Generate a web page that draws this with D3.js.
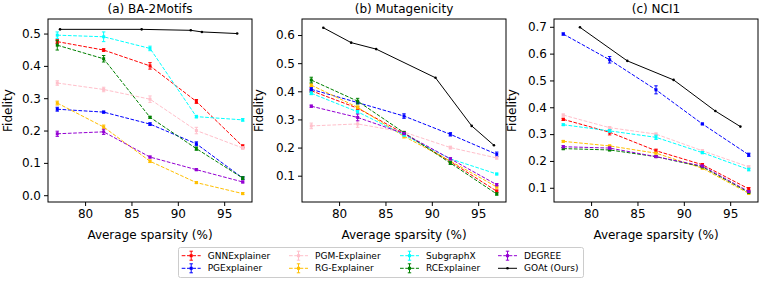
<!DOCTYPE html>
<html lang="en">
	<head>
		<meta charset="utf-8">
		<title>Fidelity vs sparsity</title>
		<script src="https://d3js.org/d3.v7.min.js"></script>
		<style type="text/css">
            body { margin: 0; background: white; }
            text { font-family: "DejaVu Sans", sans-serif; fill: black; }
            .tick text { font-size: 12px; }
            .domain { display: none; }
		</style>
	</head>
	<body>
        <div id="chart"></div>

        <script type="text/javascript">
            const width = 762;
            const height = 282;

            // data
            const sparsity = [77, 82, 87, 92, 97];
            const methods = ["GNNExplainer", "PGExplainer", "PGM-Explainer", "RG-Explainer",
                             "SubgraphX", "RCExplainer", "DEGREE", "GOAt (Ours)"];
            const colors = ["red", "blue", "pink", "#ffbf00", "cyan", "green", "darkviolet", "black"];

            // rows follow methods order (without GOAt)
            const baFid = [
                [0.475, 0.449, 0.400, 0.290, 0.151],
                [0.266, 0.257, 0.220, 0.159, 0.053],
                [0.347, 0.327, 0.297, 0.200, 0.146],
                [0.285, 0.211, 0.105, 0.039, 0.005],
                [0.495, 0.490, 0.454, 0.243, 0.233],
                [0.464, 0.422, 0.241, 0.144, 0.053],
                [0.190, 0.196, 0.118, 0.079, 0.041]
            ];
            const baErr = [
                [0.006, 0.004, 0.010, 0.006, 0.005],
                [0.006, 0.003, 0.004, 0.006, 0.004],
                [0.007, 0.007, 0.010, 0.010, 0.004],
                [0.006, 0.006, 0.004, 0.003, 0.003],
                [0.010, 0.015, 0.007, 0.004, 0.004],
                [0.015, 0.010, 0.003, 0.005, 0.004],
                [0.008, 0.008, 0.003, 0.003, 0.003]
            ];
            const baGoatX = [77.3, 86.1, 91.4, 92.6, 96.4];
            const baGoatY = [0.513, 0.513, 0.510, 0.505, 0.500];

            const mutFid = [
                [0.402, 0.340, 0.250, 0.150, 0.045],
                [0.407, 0.360, 0.312, 0.247, 0.176],
                [0.277, 0.284, 0.255, 0.200, 0.163],
                [0.422, 0.343, 0.240, 0.152, 0.060],
                [0.393, 0.327, 0.245, 0.160, 0.106],
                [0.440, 0.365, 0.253, 0.145, 0.035],
                [0.347, 0.307, 0.250, 0.160, 0.068]
            ];
            const mutErr = [
                [0.005, 0.005, 0.004, 0.004, 0.004],
                [0.006, 0.004, 0.008, 0.006, 0.008],
                [0.010, 0.012, 0.004, 0.005, 0.004],
                [0.005, 0.005, 0.006, 0.004, 0.004],
                [0.005, 0.005, 0.004, 0.003, 0.003],
                [0.010, 0.010, 0.004, 0.005, 0.004],
                [0.004, 0.012, 0.004, 0.004, 0.004]
            ];
            const mutGoatX = [78.3, 81.3, 84.0, 90.4, 94.3, 96.7];
            const mutGoatY = [0.626, 0.573, 0.550, 0.448, 0.277, 0.208];

            const nciFid = [
                [0.355, 0.307, 0.238, 0.186, 0.096],
                [0.673, 0.577, 0.465, 0.338, 0.223],
                [0.371, 0.324, 0.300, 0.238, 0.178],
                [0.273, 0.256, 0.229, 0.173, 0.079],
                [0.335, 0.312, 0.288, 0.231, 0.168],
                [0.246, 0.241, 0.216, 0.178, 0.083],
                [0.253, 0.248, 0.216, 0.181, 0.086]
            ];
            const nciErr = [
                [0.004, 0.010, 0.006, 0.004, 0.005],
                [0.004, 0.012, 0.015, 0.003, 0.006],
                [0.004, 0.004, 0.004, 0.004, 0.004],
                [0.003, 0.003, 0.003, 0.003, 0.003],
                [0.003, 0.005, 0.008, 0.004, 0.005],
                [0.004, 0.003, 0.003, 0.003, 0.003],
                [0.004, 0.004, 0.003, 0.003, 0.003]
            ];
            const nciGoatX = [78.8, 83.9, 88.9, 93.4, 96.1];
            const nciGoatY = [0.698, 0.573, 0.502, 0.386, 0.328];

            const xTicks = [80, 85, 90, 95];
            const baYTicks = [0.0, 0.1, 0.2, 0.3, 0.4, 0.5];
            const mutYTicks = [0.1, 0.2, 0.3, 0.4, 0.5, 0.6];
            const nciYTicks = [0.1, 0.2, 0.3, 0.4, 0.5, 0.6, 0.7];

            const panels = [
                {title: "(a) BA-2Motifs", left: 48, yDom: [-0.021, 0.545], yTicks: baYTicks,
                 fid: baFid, err: baErr, gx: baGoatX, gy: baGoatY, labelX: 8},
                {title: "(b) Mutagenicity", left: 302, yDom: [0.0065, 0.657], yTicks: mutYTicks,
                 fid: mutFid, err: mutErr, gx: mutGoatX, gy: mutGoatY, labelX: 259},
                {title: "(c) NCI1", left: 554, yDom: [0.047, 0.729], yTicks: nciYTicks,
                 fid: nciFid, err: nciErr, gx: nciGoatX, gy: nciGoatY, labelX: 512}
            ];
            const panelW = 204;
            const plotTop = 19, plotBottom = 202;

            const svg = d3.select("#chart")
                .append("svg")
                .attr("width", width)
                .attr("height", height);

            const dash = "3.7,1.6";

            panels.forEach(p => {
                const xScale = d3.scaleLinear().domain([76, 98]).range([p.left, p.left + panelW]);
                const yScale = d3.scaleLinear().domain(p.yDom).range([plotBottom, plotTop]);

                // x axis
                svg.append("g")
                    .attr("transform", "translate(0," + plotBottom + ")")
                    .call(d3.axisBottom(xScale).tickValues(xTicks).tickSize(4).tickPadding(3))
                    .selectAll("line").attr("stroke", "black");

                // y axis
                svg.append("g")
                    .attr("transform", "translate(" + p.left + ",0)")
                    .call(d3.axisLeft(yScale).tickValues(p.yTicks).tickFormat(d3.format(".1f")).tickSize(4).tickPadding(3))
                    .selectAll("line").attr("stroke", "black");

                const g = svg.append("g");

                p.fid.forEach((vals, i) => {
                    const col = colors[i];
                    const pts = sparsity.map((s, j) => ({x: s, y: vals[j], e: p.err[i][j]}));
                    g.append("path")
                        .datum(pts)
                        .attr("fill", "none")
                        .attr("stroke", col)
                        .attr("stroke-width", 1)
                        .attr("stroke-dasharray", dash)
                        .attr("d", d3.line().x(d => xScale(d.x)).y(d => yScale(d.y)));
                    const eb = g.append("g").selectAll("g").data(pts).enter().append("g");
                    eb.append("line")
                        .attr("x1", d => xScale(d.x)).attr("x2", d => xScale(d.x))
                        .attr("y1", d => yScale(d.y - d.e)).attr("y2", d => yScale(d.y + d.e))
                        .attr("stroke", col).attr("stroke-width", 1);
                    [-1, 1].forEach(sg => {
                        eb.append("line")
                            .attr("x1", d => xScale(d.x) - 1.7).attr("x2", d => xScale(d.x) + 1.7)
                            .attr("y1", d => yScale(d.y + sg * d.e)).attr("y2", d => yScale(d.y + sg * d.e))
                            .attr("stroke", col).attr("stroke-width", 1);
                    });
                    eb.append("rect")
                        .attr("x", d => xScale(d.x) - 1.5).attr("y", d => yScale(d.y) - 1.5)
                        .attr("width", 3).attr("height", 3)
                        .attr("fill", col);
                });

                // GOAt
                const gp = p.gx.map((x, j) => ({x: x, y: p.gy[j]}));
                g.append("path")
                    .datum(gp)
                    .attr("fill", "none")
                    .attr("stroke", "black")
                    .attr("stroke-width", 1)
                    .attr("d", d3.line().x(d => xScale(d.x)).y(d => yScale(d.y)));
                g.selectAll(".goat").data(gp).enter().append("circle")
                    .attr("cx", d => xScale(d.x)).attr("cy", d => yScale(d.y))
                    .attr("r", 1.3).attr("fill", "black");

                // frame
                svg.append("rect")
                    .attr("x", p.left).attr("y", plotTop)
                    .attr("width", panelW).attr("height", plotBottom - plotTop)
                    .attr("fill", "none").attr("stroke", "black").attr("stroke-width", 1);

                svg.append("text")
                    .attr("x", p.left + panelW / 2).attr("y", 13)
                    .attr("text-anchor", "middle").attr("font-size", 12)
                    .text(p.title);

                svg.append("text")
                    .attr("x", p.left + panelW / 2).attr("y", 239)
                    .attr("text-anchor", "middle").attr("font-size", 12)
                    .text("Average sparsity (%)");

                svg.append("text")
                    .attr("transform", "translate(" + (p.labelX + 4) + "," + ((plotTop + plotBottom) / 2) + ") rotate(-90)")
                    .attr("text-anchor", "middle").attr("font-size", 12)
                    .text("Fidelity");
            });

            // legend
            const legend = svg.append("g");
            legend.append("rect")
                .attr("x", 178.5).attr("y", 247.5).attr("width", 405).attr("height", 30)
                .attr("rx", 2).attr("fill", "white").attr("stroke", "#cccccc").attr("stroke-width", 1);

            const colX = [181.7, 289, 400, 498];
            const rowY = [255.7, 268.3];
            methods.forEach((m, i) => {
                const cx = colX[Math.floor(i / 2)];
                const cy = rowY[i % 2];
                const col = colors[i];
                const item = legend.append("g");
                const isGoat = i === methods.length - 1;
                item.append("line")
                    .attr("x1", cx).attr("x2", cx + 19).attr("y1", cy).attr("y2", cy)
                    .attr("stroke", col).attr("stroke-width", 1)
                    .attr("stroke-dasharray", isGoat ? null : dash);
                if (isGoat) {
                    item.append("circle").attr("cx", cx + 9.5).attr("cy", cy).attr("r", 1.3).attr("fill", col);
                } else {
                    item.append("line").attr("x1", cx + 9.5).attr("x2", cx + 9.5)
                        .attr("y1", cy - 4.5).attr("y2", cy + 4.5).attr("stroke", col);
                    [-4.5, 4.5].forEach(o => item.append("line")
                        .attr("x1", cx + 7.8).attr("x2", cx + 11.2)
                        .attr("y1", cy + o).attr("y2", cy + o).attr("stroke", col));
                    item.append("rect").attr("x", cx + 8).attr("y", cy - 1.5)
                        .attr("width", 3).attr("height", 3).attr("fill", col);
                }
                item.append("text")
                    .attr("x", cx + 26).attr("y", cy).attr("dy", "0.35em")
                    .attr("font-size", 9)
                    .text(m);
            });
        </script>
	</body>
</html>
